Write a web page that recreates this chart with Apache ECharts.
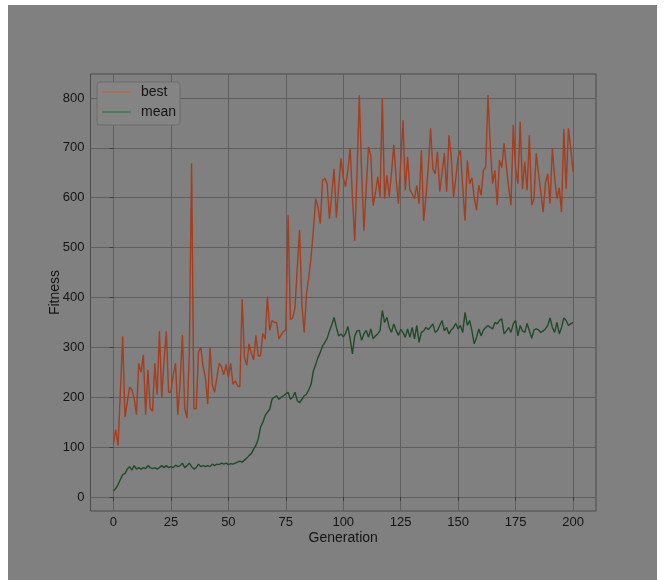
<!DOCTYPE html>
<html>
    <head>
        <meta charset="utf-8">
        <title>Fitness</title>
        <script src="https://cdn.jsdelivr.net/npm/echarts@6/dist/echarts.min.js"></script>
        <style>
            body { margin: 0; background: #ffffff; }
            #main { position: absolute; left: 8px; top: 5px; width: 649px; height: 575px; background: #808080; }
        </style>
    </head>
    <body>
        <div id="main"></div>
        <script type="text/javascript">
            // values, one per generation (0..200)
            var best = [
                107, 135, 103, 210, 322, 160, 190, 220, 215, 198,
                165, 268, 250, 285, 165, 255, 178, 172, 268, 205,
                333, 200, 272, 332, 210, 210, 245, 268, 165, 230,
                325, 178, 158, 290, 669, 177, 177, 290, 300, 262,
                240, 186, 300, 225, 210, 240, 268, 262, 245, 266,
                240, 268, 226, 233, 223, 221, 397, 280, 264, 307,
                287, 275, 324, 283, 283, 328, 317, 402, 334, 354,
                350, 350, 317, 325, 332, 335, 565, 356, 359, 380,
                460, 535, 386, 330, 407, 440, 481, 535, 598, 582,
                548, 635, 639, 628, 558, 608, 658, 560, 620, 679,
                640, 622, 655, 699, 600, 514, 650, 806, 650, 534,
                620, 702, 684, 584, 610, 642, 602, 800, 598, 645,
                602, 650, 706, 640, 588, 670, 755, 615, 682, 615,
                608, 598, 625, 588, 695, 554, 602, 660, 739, 658,
                648, 692, 612, 650, 689, 612, 725, 682, 601, 640,
                682, 695, 620, 554, 675, 628, 640, 600, 575, 625,
                605, 655, 662, 806, 702, 628, 655, 585, 675, 660,
                709, 662, 620, 585, 746, 660, 628, 752, 618, 672,
                615, 725, 585, 598, 689, 648, 610, 571, 630, 648,
                588, 699, 640, 598, 620, 571, 737, 618, 739, 699,
                652
            ];
            var mean = [
                12, 17, 25, 35, 45, 47, 56, 61, 54, 63,
                56, 59, 56, 59, 57, 63, 59, 57, 59, 56,
                59, 63, 59, 63, 59, 61, 59, 64, 61, 63,
                68, 59, 63, 68, 61, 56, 59, 66, 61, 63,
                61, 63, 61, 66, 63, 66, 65, 68, 66, 68,
                65, 67, 66, 68, 70, 72, 70, 74, 78, 83,
                87, 96, 104, 116, 140, 150, 163, 170, 176, 196,
                200, 203, 196, 200, 203, 207, 210, 196, 200, 210,
                193, 189, 196, 203, 206, 215, 226, 253, 265, 280,
                290, 303, 310, 318, 333, 345, 360, 340, 323, 327,
                321, 328, 342, 317, 287, 323, 333, 334, 314, 327,
                334, 320, 337, 317, 323, 327, 333, 374, 350, 360,
                340, 330, 347, 334, 324, 336, 330, 320, 337, 320,
                340, 317, 344, 310, 330, 333, 340, 336, 341, 347,
                330, 334, 344, 354, 333, 340, 327, 335, 340, 348,
                337, 344, 330, 370, 344, 354, 333, 307, 320, 337,
                323, 335, 340, 344, 340, 337, 350, 347, 354, 357,
                327, 333, 340, 330, 347, 354, 323, 344, 333, 330,
                348, 333, 318, 335, 337, 335, 330, 333, 337, 344,
                359, 340, 330, 350, 327, 340, 359, 354, 344, 347,
                350
            ];
            var xTicks = [0, 25, 50, 75, 100, 125, 150, 175, 200];
            var yTicks = [0, 100, 200, 300, 400, 500, 600, 700, 800];

            function pairs(arr) {
                return arr.map(function (v, i) { return [i, v]; });
            }

            var textColor = '#141414';
            var myChart = echarts.init(document.getElementById('main'));

            var option = {
                animation: false,
                backgroundColor: '#808080',
                textStyle: { fontFamily: 'Liberation Sans, Arial, sans-serif' },
                grid: {
                    left: 82.5, top: 69, right: 61, bottom: 69,
                    show: true,
                    borderColor: '#4a4a4a',
                    borderWidth: 1,
                    backgroundColor: 'transparent'
                },
                legend: {
                    orient: 'vertical',
                    left: 89,
                    top: 77,
                    icon: 'rect',
                    itemWidth: 29,
                    itemHeight: 2,
                    itemGap: 4,
                    padding: [2, 4, 5, 5],
                    backgroundColor: '#848484',
                    borderColor: '#6c6c6c',
                    borderWidth: 1,
                    borderRadius: 3,
                    textStyle: { color: textColor, fontSize: 14, lineHeight: 16, padding: [0, 0, 0, 5] },
                    data: [
                        { name: 'best', itemStyle: { color: '#a8705b' } },
                        { name: 'mean', itemStyle: { color: '#517a58' } }
                    ]
                },
                xAxis: {
                    type: 'value',
                    min: -10,
                    max: 210,
                    name: 'Generation',
                    nameLocation: 'middle',
                    nameGap: 20,
                    nameMoveOverlap: false,
                    nameTextStyle: { color: textColor, fontSize: 14 },
                    axisLine: { show: false },
                    axisTick: { show: true, length: 4, lineStyle: { color: '#3d3d3d' }, customValues: xTicks },
                    axisLabel: { color: textColor, fontSize: 13, margin: 5, customValues: xTicks },
                    splitLine: { show: true, lineStyle: { color: '#5f5f5f', width: 1 } }
                },
                yAxis: {
                    type: 'value',
                    min: -28,
                    max: 848,
                    name: 'Fitness',
                    nameLocation: 'middle',
                    nameGap: 28,
                    nameMoveOverlap: false,
                    nameRotate: 90,
                    nameTextStyle: { color: textColor, fontSize: 14 },
                    axisLine: { show: false },
                    axisTick: { show: true, length: 4, lineStyle: { color: '#3d3d3d' }, customValues: yTicks },
                    axisLabel: { color: textColor, fontSize: 13, margin: 6, customValues: yTicks },
                    splitLine: { show: true, lineStyle: { color: '#5f5f5f', width: 1 } }
                },
                series: [
                    {
                        name: 'best',
                        type: 'line',
                        showSymbol: false,
                        color: '#a63d1c',
                        lineStyle: { width: 1.4, color: '#a63d1c' },
                        data: pairs(best)
                    },
                    {
                        name: 'mean',
                        type: 'line',
                        showSymbol: false,
                        color: '#1f4b29',
                        lineStyle: { width: 1.4, color: '#1f4b29' },
                        data: pairs(mean)
                    }
                ]
            };

            myChart.setOption(option);
        </script>
    </body>
</html>
